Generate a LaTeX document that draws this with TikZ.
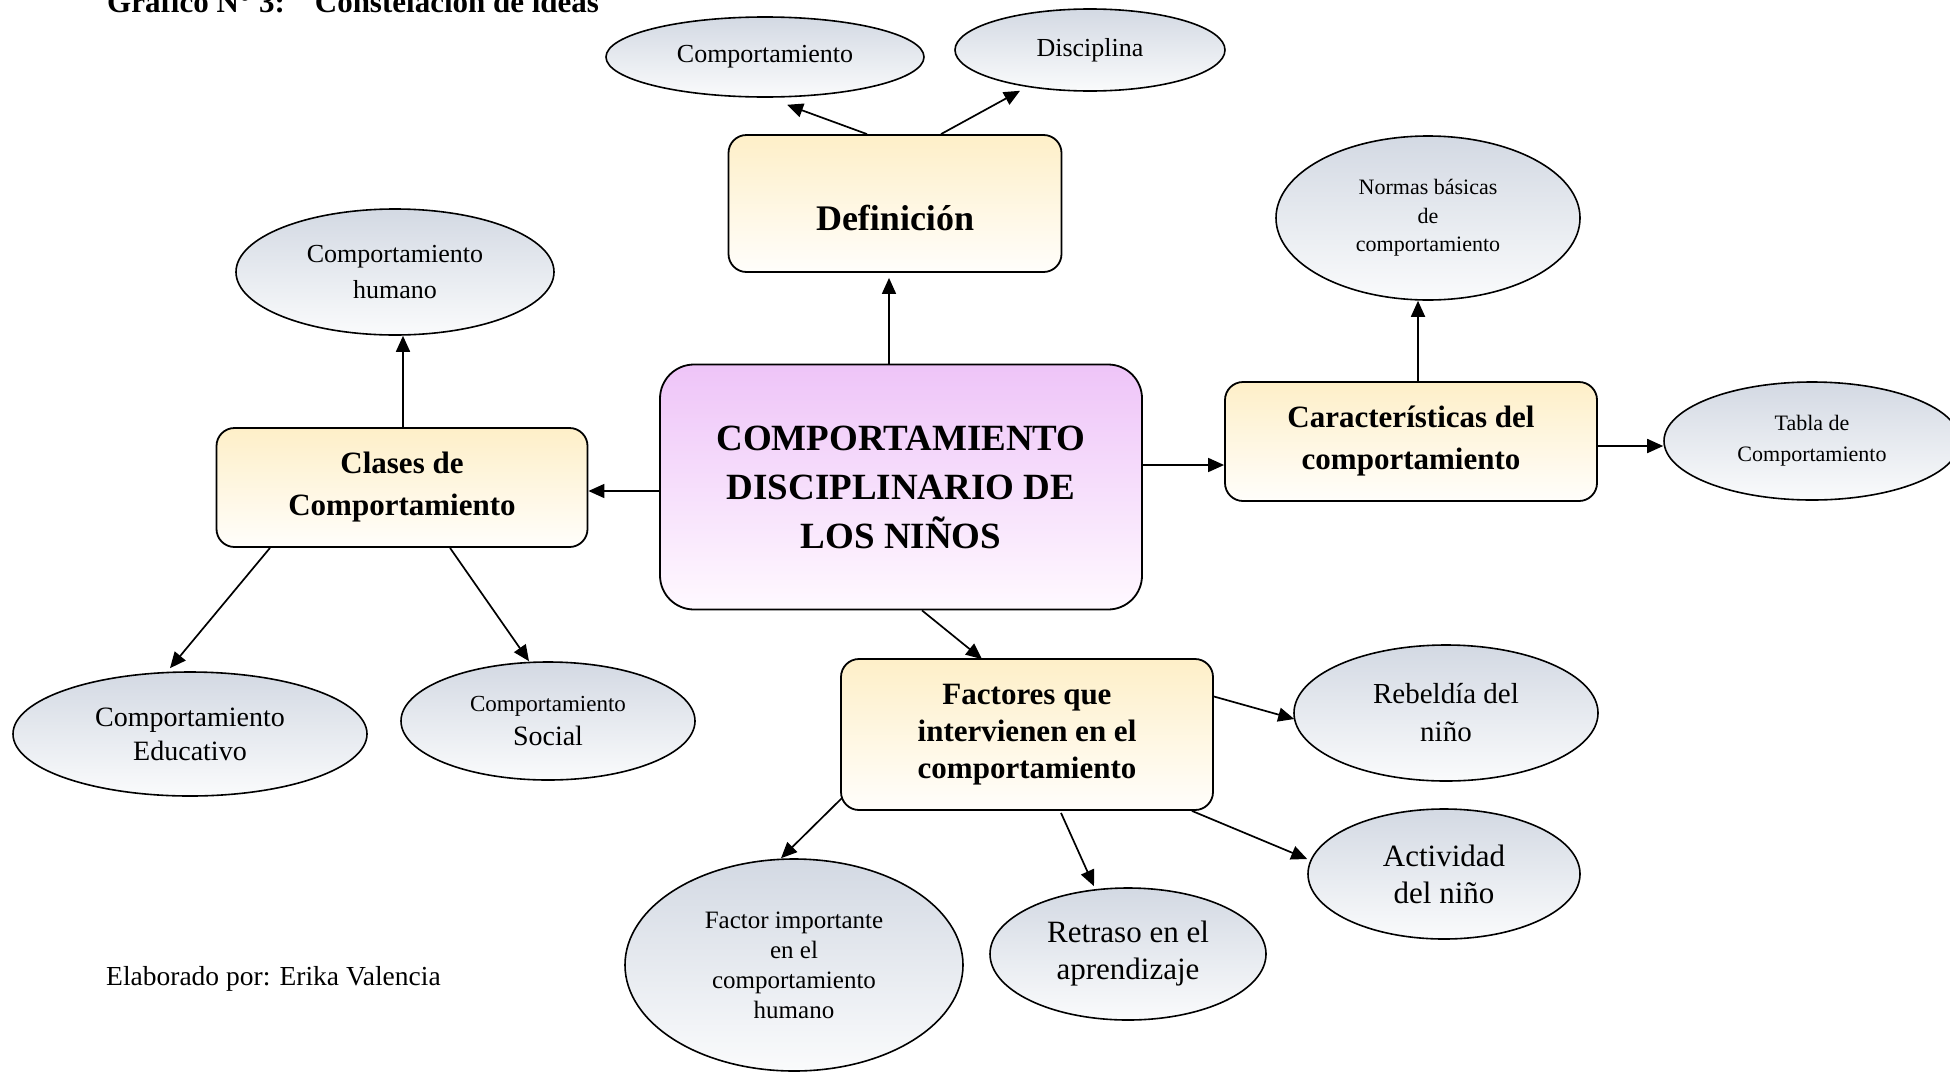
\documentclass[tikz,border=0pt]{standalone}
\usepackage{fontspec}
\setmainfont{Liberation Serif}
\usetikzlibrary{shapes.geometric,arrows.meta,calc}

\definecolor{elltop}{RGB}{211,217,227}
\definecolor{ellbot}{RGB}{250,251,252}
\definecolor{boxtop}{RGB}{254,239,200}
\definecolor{boxbot}{RGB}{255,254,251}
\definecolor{cortop}{RGB}{238,196,248}
\definecolor{corbot}{RGB}{255,249,255}

\newcommand{\fs}[2]{\fontsize{#1}{#2}\selectfont}

\begin{document}
\begin{tikzpicture}[x=1pt, y=-1pt,
  idea/.style={shape=ellipse, draw, line width=1.6pt, top color=elltop, bottom color=ellbot, inner sep=0pt, align=center},
  tema/.style={shape=rectangle, rounded corners=18pt, draw, line width=1.8pt, top color=boxtop, bottom color=boxbot, align=center},
  link/.style={-{Triangle[length=16pt,width=14pt]}, line width=1.7pt}]
\useasboundingbox (0,0) rectangle (1950,1071);
\clip (0,0) rectangle (1950,1071);

\node [anchor=base west, inner sep=0pt, font=\bfseries\fs{31}{36}] (titulo) at (107,12) {Gráfico N° 3:\hspace*{30pt}Constelación de ideas};

% centro
\node [shape=rectangle, rounded corners=34pt, draw, line width=1.8pt, top color=cortop, bottom color=corbot, align=center, minimum width=482pt, minimum height=245pt, font=\bfseries\fs{37}{49}] (B0) at (901,487) {COMPORTAMIENTO\\ DISCIPLINARIO DE\\ LOS NIÑOS};

% cuadros
\node [tema, minimum width=333pt, minimum height=137pt, text height=58pt, text depth=4pt, font=\bfseries\fs{36}{44}] (B1) at (895,203.5) {Definición};
\node [tema, minimum width=371pt, minimum height=119pt, font=\bfseries\fs{31}{42}] (B2) at (402,487.5) {Clases de\\ Comportamiento};
\node [tema, minimum width=372pt, minimum height=119pt, font=\bfseries\fs{31}{42}] (B3) at (1411,441.5) {Características del\\ comportamiento};
\node [tema, minimum width=372pt, minimum height=151pt, font=\bfseries\fs{31}{37}] (B4) at (1027,734.5) {Factores que\\ intervienen en el\\ comportamiento};

% ideas
\node [idea, minimum width=318pt, minimum height=80pt, font=\fs{26}{30}] (E1) at (765,57) {Comportamiento};
\node [idea, minimum width=270pt, minimum height=82pt, font=\fs{26}{30}] (E2) at (1090,50) {Disciplina};
\node [idea, minimum width=304pt, minimum height=164pt, font=\fs{22}{28.6}] (E3) at (1428,218) {Normas básicas\\ de\\ comportamiento};
\node [idea, minimum width=296pt, minimum height=118pt, font=\fs{22}{31}] (E4) at (1812,441) {Tabla de\\ Comportamiento};
\node [idea, minimum width=318pt, minimum height=126pt, font=\fs{26}{36}] (E5) at (395,272) {Comportamiento\\ humano};
\node [idea, minimum width=354pt, minimum height=124pt, font=\fs{28}{34}] (E6) at (190,734) {Comportamiento\\ Educativo};
\node [idea, minimum width=294pt, minimum height=118pt, font=\fs{28}{34}] (E7) at (548,721) {{\fs{23}{34}Comportamiento}\\ Social};
\node [idea, minimum width=304pt, minimum height=136pt, font=\fs{29}{38}] (E8) at (1446,713) {Rebeldía del\\ niño};
\node [idea, minimum width=272pt, minimum height=130pt, font=\fs{31}{37}] (E9) at (1444,874) {Actividad\\ del niño};
\node [idea, minimum width=276pt, minimum height=132pt, font=\fs{31}{37}] (E10) at (1128,954) {Retraso en el\\ aprendizaje};
\node [idea, minimum width=338pt, minimum height=212pt, font=\fs{25}{30}] (E11) at (794,965) {Factor importante\\ en el\\ comportamiento\\ humano};

\node [anchor=west, inner sep=0pt, font=\fs{27.5}{32}] (autor) at (106,979) {Elaborado por: Erika Valencia};

% flechas
\draw[link] ($(B1.north)+(-28,0)$) -- ($(E1.south)+(22,7)$);
\draw[link] ($(B1.north)+(46,0)$) -- ($(E2.south)+(-70,-1)$);
\draw[link] ($(B0.north)+(-12,0)$) -- ($(B1.south)+(-6,5)$);
\draw[link] ($(B0.east)+(0,-22)$) -- ($(B3.west)+(0,23.5)$);
\draw[link] ($(B3.north)+(7,0)$) -- ($(E3.south)+(-10,0)$);
\draw[link] ($(B3.east)+(0,4.5)$) -- ($(E4.west)+(0,5)$);
\draw[link] ($(B0.west)+(0,4)$) -- ($(B2.east)+(0,3.5)$);
\draw[link] ($(B2.north)+(1,0)$) -- ($(E5.south)+(8,0)$);
\draw[link] ($(B2.south)+(-132,0)$) -- ($(E6.north)+(-20,-3)$);
\draw[link] ($(B2.south)+(48,0)$) -- ($(E7.north)+(-19,0)$);
\draw[link] ($(B0.south)+(21,0)$) -- ($(B4.north)+(-45,1)$);
\draw[link] ($(B4.east)+(0,-38)$) -- ($(E8.west)+(1,6)$);
\draw[link] ($(B4.south east)+(-22,0)$) -- ($(E9.west)+(0,-15)$);
\draw[link] ($(B4.south)+(34,2)$) -- ($(E10.north)+(-34,-1)$);
\draw[link] ($(B4.south west)+(2,-13)$) -- ($(E11.north)+(-13,0)$);
\end{tikzpicture}
\end{document}
